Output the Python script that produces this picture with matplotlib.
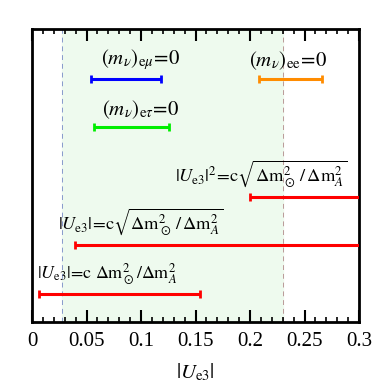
import numpy as np
import matplotlib
matplotlib.use("Agg")
import matplotlib.pyplot as plt
from matplotlib.ticker import MultipleLocator

plt.rcParams["font.family"] = ["Liberation Serif", "DejaVu Serif"]
plt.rcParams["mathtext.fontset"] = "stix"

# ranges of |U_e3| for each condition
labels = [
    r"$(m_\nu)_{\mathrm{e}\mu}\!=\!0$",
    r"$(m_\nu)_{\mathrm{ee}}\!=\!0$",
    r"$(m_\nu)_{\mathrm{e}\tau}\!=\!0$",
    r"$|U_{\mathrm{e}3}|^2\!=\!\mathrm{c}\sqrt{\mathrm{\Delta m}^2_\odot\,/\,\mathrm{\Delta m}^2_A}$",
    r"$|U_{\mathrm{e}3}|\!=\!\mathrm{c}\sqrt{\mathrm{\Delta m}^2_\odot\,/\,\mathrm{\Delta m}^2_A}$",
    r"$|U_{\mathrm{e}3}|\!=\!\mathrm{c}\ \mathrm{\Delta m}^2_\odot/\mathrm{\Delta m}^2_A$",
]
lo = [0.054, 0.208, 0.057, 0.200, 0.039, 0.0065]
hi = [0.118, 0.266, 0.126, 0.32, 0.32, 0.154]
rows = [0.83, 0.83, 0.665, 0.427, 0.263, 0.096]
colors = ["#0000ff", "#ff8c00", "#00ee00", "#ff0000", "#ff0000", "#ff0000"]
label_x = [0.063, 0.199, 0.064, 0.131, 0.024, 0.005]
label_fs = [15, 15, 15, 13.2, 13.2, 12.9]

band = (0.0275, 0.23)

fig = plt.figure(figsize=(3.74, 3.85), dpi=100)
ax = fig.add_axes([32 / 374, 1 - 322 / 385, 327 / 374, 293 / 385])

ax.axvspan(band[0], band[1], color="#eefaee", zorder=0)
ax.axvline(band[0], color="#8899cc", ls=(0, (5, 4)), lw=0.7, zorder=1)
ax.axvline(band[1], color="#bb9999", ls=(0, (5, 4)), lw=0.7, zorder=1)

for i in range(len(lo)):
    ax.plot([lo[i], hi[i]], [rows[i], rows[i]], color=colors[i], lw=2.2,
            solid_capstyle="butt", zorder=3)
    ends = [lo[i], hi[i]] if hi[i] < 0.3 else [lo[i]]
    ax.plot(ends, [rows[i]] * len(ends), ls="none", marker="|", ms=6,
            mew=2, color=colors[i], zorder=3)
    ax.text(label_x[i], rows[i] + 0.022, labels[i], fontsize=label_fs[i],
            ha="left", va="bottom", zorder=4)

ax.set_xlim(0, 0.3)
ax.set_ylim(0, 1)
ax.xaxis.set_minor_locator(MultipleLocator(0.01))
ax.set_xticks([0, 0.05, 0.1, 0.15, 0.2, 0.25, 0.3])
ax.set_xticklabels(["0", "0.05", "0.1", "0.15", "0.2", "0.25", "0.3"])
ax.tick_params(axis="x", which="both", direction="in", top=True, bottom=True,
               labelsize=15, pad=7)
ax.tick_params(axis="x", which="major", length=8.5, width=1.5)
ax.tick_params(axis="x", which="minor", length=3.5, width=1.2)
ax.set_yticks([])
for s in ax.spines.values():
    s.set_linewidth(2)
ax.set_xlabel(r"$|U_{\mathrm{e}3}|$", fontsize=15, labelpad=8)

fig.savefig("out.png", dpi=100)
